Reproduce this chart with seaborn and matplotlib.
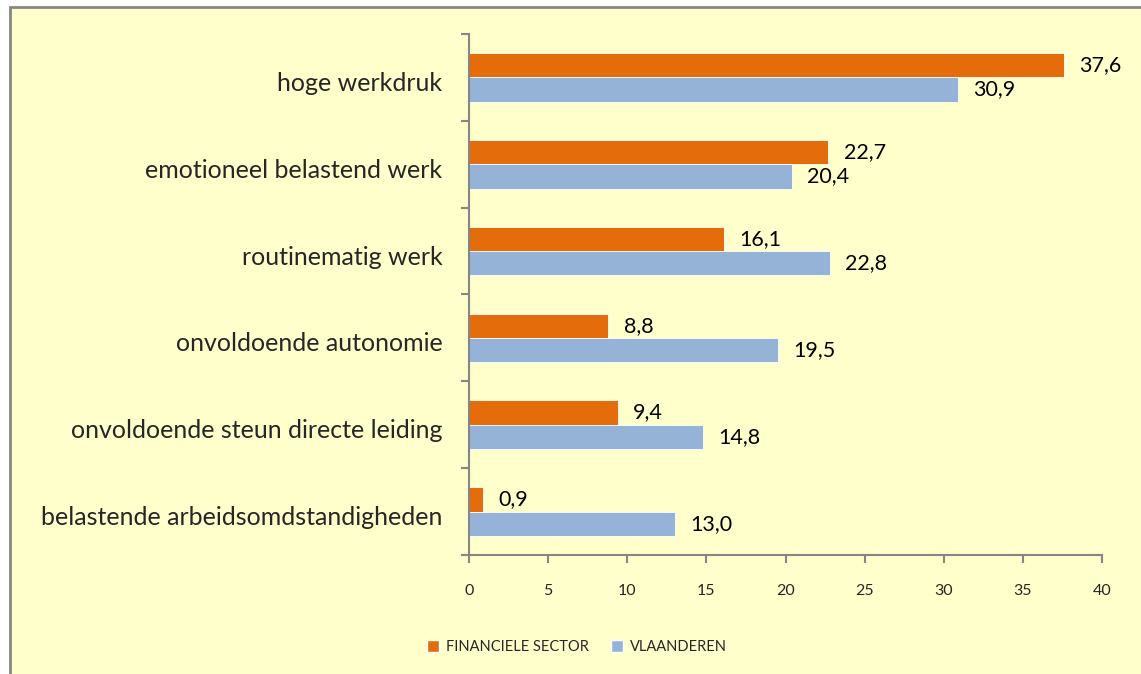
import pandas as pd
import matplotlib
matplotlib.use('Agg')
import matplotlib.pyplot as plt
import matplotlib.transforms as mtransforms
import seaborn as sns
from matplotlib.patches import Rectangle, Patch

# Data
categories = ['hoge werkdruk', 'emotioneel belastend werk', 'routinematig werk',
              'onvoldoende autonomie', 'onvoldoende steun directe leiding',
              'belastende arbeidsomdstandigheden']
financiele = [37.6, 22.7, 16.1, 8.8, 9.4, 0.9]
vlaanderen = [30.9, 20.4, 22.8, 19.5, 14.8, 13.0]
series = ['FINANCIELE SECTOR', 'VLAANDEREN']
colors = ['#E46C0A', '#95B3D7']
x_ticks = [0, 5, 10, 15, 20, 25, 30, 35, 40]

data = pd.DataFrame({
    'categorie': categories * 2,
    'waarde': financiele + vlaanderen,
    'reeks': [series[0]] * len(categories) + [series[1]] * len(categories),
})

sns.set_style('white')
plt.rcParams['font.family'] = ['Lato', 'DejaVu Sans']

bg = '#FFFFCC'
grey = '#868686'

fig = plt.figure(figsize=(11.41, 6.74), dpi=100)
fig.patch.set_facecolor('white')
# chart area with grey border, cut off at right/bottom like the reference
fig.patches.append(Rectangle((10 / 1141, -0.05), 1.1, 1 - 7 / 674 + 0.05,
                             transform=fig.transFigure, facecolor=bg,
                             edgecolor=grey, linewidth=2, zorder=-5))

ax = fig.add_axes([469 / 1141, 1 - 555 / 674, (1102 - 469) / 1141, (555 - 34) / 674])
ax.set_facecolor('none')
ax.set_zorder(2)

sns.barplot(data=data, y='categorie', x='waarde', hue='reeks', orient='h',
            palette=colors, width=0.56, saturation=1, ax=ax, legend=False,
            edgecolor='white', linewidth=0.6)

for cont in ax.containers:
    ax.bar_label(cont, labels=[f'{v:.1f}'.replace('.', ',') for v in cont.datavalues],
                 padding=11, fontsize=15.5, color='black')

ax.set_xlim(0, 40)
ax.set_ylim(len(categories) - 0.5, -0.5)
ax.set_xticks(x_ticks)
ax.set_xticklabels([str(t) for t in x_ticks], fontsize=11.5)
ax.set_yticks(range(len(categories)))
ax.set_yticklabels(categories, fontsize=18)
ax.set_yticks([i - 0.5 for i in range(len(categories) + 1)], minor=True)
ax.tick_params(axis='y', which='major', left=False, length=0, pad=19)
ax.tick_params(axis='y', which='minor', left=True, length=6, color=grey, width=1.5,
               direction='out')
ax.tick_params(axis='x', bottom=True, length=6, color=grey, width=1.5,
               direction='out', pad=15)
ax.set_xlabel('')
ax.set_ylabel('')

# category labels sit a little below the group centre in the original
shift = mtransforms.ScaledTranslation(0, -4 / 100, fig.dpi_scale_trans)
for lbl in ax.get_yticklabels():
    lbl.set_transform(lbl.get_transform() + shift)

sns.despine(ax=ax, top=True, right=True)
for side in ['left', 'bottom']:
    ax.spines[side].set_color(grey)
    ax.spines[side].set_linewidth(1.5)

handles = [Patch(facecolor=c, label=s) for c, s in zip(colors, series)]
fig.legend(handles=handles, loc='center', bbox_to_anchor=(577 / 1141, 1 - 647 / 674),
           ncol=2, frameon=False, fontsize=10.5, handlelength=0.8, handleheight=0.8,
           columnspacing=1.5, handletextpad=0.5)

fig.savefig('out.png', dpi=100)
plt.close(fig)
